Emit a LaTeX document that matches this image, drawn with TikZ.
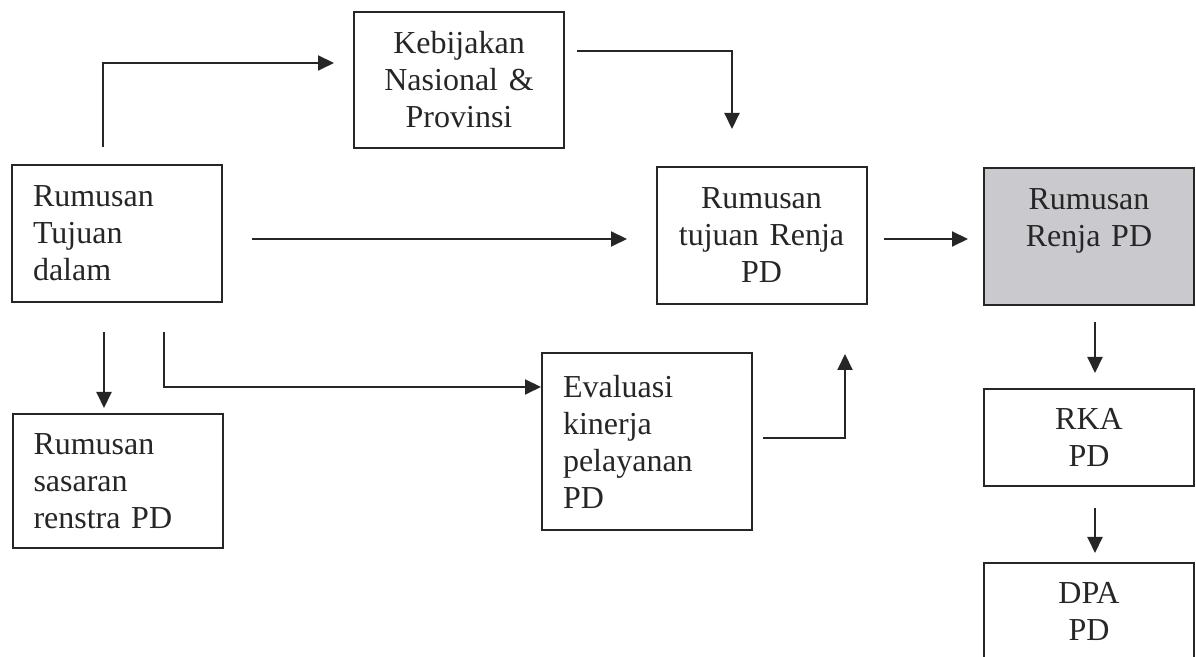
\documentclass[tikz,border=0pt]{standalone}
\usepackage{fontspec}
\setmainfont{Liberation Serif}
\usetikzlibrary{arrows.meta}

\definecolor{abu}{RGB}{202,202,206}

\tikzset{
  kotak/.style={draw=black!85, line width=1pt, inner xsep=0pt, inner ysep=0pt,
    text width=84pt, minimum width=105pt, text=black!85,
    font=\fontsize{16}{18.5}\selectfont},
  panah/.style={draw=black!85, line width=1pt, -{Triangle[length=8pt,width=7.5pt]}},
}

\begin{document}
\begin{tikzpicture}[x=0.5pt,y=-0.5pt]
   \useasboundingbox (0,0) rectangle (1196,657);
   % kotak-kotak
   \node[kotak, minimum height=68pt, align=center] (kebijakan) at (459,80)
     {Kebijakan\\Nasional \&\\Provinsi};
   \node[kotak, minimum height=68.5pt, align=left] (tujuan) at (117,233.5)
     {Rumusan\\Tujuan\\dalam};
   \node[kotak, minimum height=68.5pt, align=center] (renjatujuan) at (761.5,235.5)
     {Rumusan\\tujuan Renja\\PD};
   \node[kotak, minimum height=68.5pt, align=center, fill=abu] (renja) at (1089,236.5)
     {Rumusan\\Renja PD\\\mbox{}};
   \node[kotak, minimum height=67pt, align=left] (sasaran) at (117.5,481)
     {Rumusan\\sasaran\\renstra PD};
   \node[kotak, minimum height=88.5pt, align=left] (evaluasi) at (647,441.5)
     {Evaluasi\\kinerja\\pelayanan\\PD};
   \node[kotak, minimum height=48.5pt, align=center] (rka) at (1089,437.5)
     {RKA\\PD};
   \node[kotak, minimum height=48.5pt, align=center] (dpa) at (1089,611.5)
     {DPA\\PD};
   % ujung panah
   \coordinate (a1) at (103,147);  \coordinate (a2) at (334,63);
   \coordinate (b1) at (577,51);   \coordinate (b2) at (732,129);
   \coordinate (c1) at (252,239);  \coordinate (c2) at (627,239);
   \coordinate (d1) at (884,239);  \coordinate (d2) at (968,239);
   \coordinate (e1) at (104,332);  \coordinate (e2) at (104,408);
   \coordinate (f1) at (164,332);  \coordinate (f2) at (541,387);
   \coordinate (g1) at (763,438);  \coordinate (g2) at (845,354);
   \coordinate (h1) at (1095,322); \coordinate (h2) at (1095,373);
   \coordinate (i1) at (1095,508); \coordinate (i2) at (1095,553);
   % panah
   \draw[panah] (a1) |- (a2);
   \draw[panah] (b1) -| (b2);
   \draw[panah] (c1) -- (c2);
   \draw[panah] (d1) -- (d2);
   \draw[panah] (e1) -- (e2);
   \draw[panah] (f1) |- (f2);
   \draw[panah] (g1) -| (g2);
   \draw[panah] (h1) -- (h2);
   \draw[panah] (i1) -- (i2);
\end{tikzpicture}
\end{document}
